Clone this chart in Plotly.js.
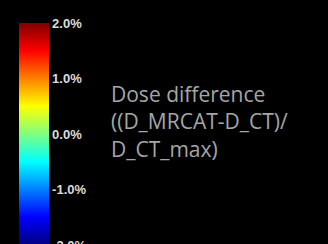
<!DOCTYPE html>
<html>
<head>
<meta charset="utf-8">
<script src="https://cdn.plot.ly/plotly-3.0.1.min.js"></script>
<style>html,body{margin:0;padding:0;background:#000;}#chart{width:328px;height:244px;}</style>
</head>
<body>
<div id="chart"></div>
<script>
var tickValues = [2, 1, 0, -1, -2];
var tickLabels = ['2.0%', '1.0%', '0.0%', '-1.0%', '-2.0%'];
var colorRange = [-2, 2];
var titleLines = ['Dose difference', '((D_MRCAT-D_CT)/', 'D_CT_max)'];

var jet = [
  [0, 'rgb(0,0,128)'],
  [0.125, 'rgb(0,0,255)'],
  [0.375, 'rgb(0,255,255)'],
  [0.625, 'rgb(255,255,0)'],
  [0.875, 'rgb(255,0,0)'],
  [1, 'rgb(128,0,0)']
];

var W = 328, H = 244;
var trace = {
  type: 'scatter', mode: 'markers',
  x: [0, 0], y: [0, 0],
  hoverinfo: 'skip',
  marker: {
    color: colorRange, cmin: colorRange[0], cmax: colorRange[1],
    colorscale: jet, opacity: 0, size: 1, showscale: true,
    colorbar: {
      thicknessmode: 'pixels', thickness: 30,
      lenmode: 'pixels', len: 222,
      x: 19 / W, xanchor: 'left', xpad: 0,
      y: 1 - 23 / H, yanchor: 'top', ypad: 0,
      outlinewidth: 0, bgcolor: 'rgba(0,0,0,0)',
      tickmode: 'array', tickvals: tickValues, ticktext: tickLabels,
      ticks: '', ticklen: 0, ticklabeloverflow: 'allow',
      tickfont: {family: 'Liberation Sans, Arial', size: 13, color: '#dcdcdc', weight: 'bold'}
    }
  }
};

var layout = {
  width: W, height: H,
  margin: {l: 0, r: 0, t: 0, b: 0},
  paper_bgcolor: '#000', plot_bgcolor: '#000',
  showlegend: false,
  xaxis: {visible: false, range: [10, 11]},
  yaxis: {visible: false, range: [10, 11]},
  annotations: [{
    xref: 'paper', yref: 'paper',
    x: 109 / W, xanchor: 'left',
    y: 1 - 78 / H, yanchor: 'top',
    align: 'left', showarrow: false,
    text: titleLines.join('<br>'),
    font: {family: 'Open Sans', size: 21, color: '#a6a6a6'}
  }]
};

Plotly.newPlot('chart', [trace], layout, {staticPlot: true, displayModeBar: false});
</script>
</body>
</html>
